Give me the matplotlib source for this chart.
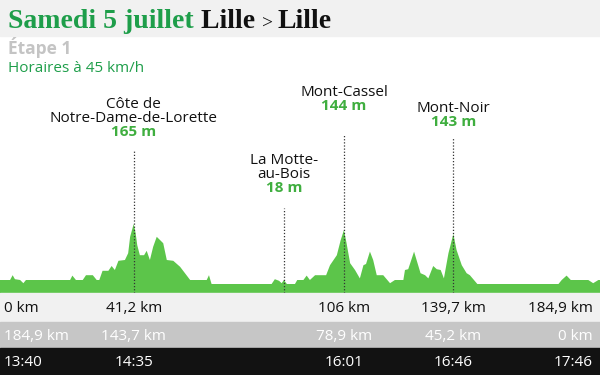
import matplotlib
matplotlib.use("Agg")
import matplotlib.pyplot as plt

# profile: distance (km) / altitude (m)
profile_km = [0, 3.1, 3.9, 4.6, 6.2, 7.2, 8.0, 21.6, 22.3, 23.4, 25.5, 26.5, 28.6,
              29.8, 30.6, 31.6, 33.4, 34.4, 35.4, 36.5, 38.5, 39.5, 40.1, 41.2,
              41.8, 42.3, 43.1, 44.4, 45.2, 46.2, 47.2, 48.3, 49.3, 50.3, 51.4,
              53.4, 55.5, 58.6, 61.6, 63.7, 64.4, 65.2, 83.7, 84.7, 86.0, 86.8,
              87.5, 88.4, 90.9, 91.6, 93.5, 94.5, 95.5, 97.1, 100.5, 101.7, 103.8,
              105.0, 106.0, 106.8, 107.9, 109.4, 110.9, 112.0, 112.8, 114.0, 115.0,
              116.1, 118.1, 120.2, 121.7, 124.3, 124.8, 125.8, 127.6, 129.6, 131.0,
              132.0, 133.5, 134.6, 135.8, 136.8, 138.2, 139.7, 140.7, 142.3, 143.8,
              144.8, 147.1, 172.1, 173.1, 174.6, 175.9, 181.3, 182.8, 184.4, 184.9]
profile_m = [25, 25, 37, 27, 25, 17, 25, 25, 36, 25, 25, 37, 37,
             25, 25, 48, 48, 60, 50, 73, 75, 92, 133, 165,
             142, 112, 87, 87, 98, 75, 108, 133, 125, 117, 75,
             73, 58, 25, 25, 25, 37, 15, 15, 27, 23, 17,
             25, 15, 15, 25, 25, 36, 25, 37, 37, 62, 87,
             125, 150, 117, 67, 50, 29, 62, 65, 96, 75,
             37, 37, 17, 25, 25, 50, 52, 96, 42, 37,
             29, 60, 52, 50, 29, 92, 140, 100, 62, 42,
             37, 15, 15, 25, 36, 25, 25, 17, 25, 25]

climb_names = [["Côte de", "Notre-Dame-de-Lorette"], ["La Motte-", "au-Bois"],
               ["Mont-Cassel"], ["Mont-Noir"]]
climb_alt = ["165 m", "18 m", "144 m", "143 m"]
climb_km = [41.2, 87.6, 106.0, 139.7]

row_km = [0, 41.2, 106, 139.7, 184.9]
row_done = ["0 km", "41,2 km", "106 km", "139,7 km", "184,9 km"]
row_left = ["184,9 km", "143,7 km", "78,9 km", "45,2 km", "0 km"]
row_time = ["13:40", "14:35", "16:01", "16:46", "17:46"]

TOTAL = 184.9
W, H = 600, 375
SANS = ["Open Sans", "DejaVu Sans"]
SERIF = ["Liberation Serif", "DejaVu Serif"]
GREEN_T = "#1e9e4a"
GREEN_V = "#3fae3f"
GREEN_F = "#5cc54a"

fig = plt.figure(figsize=(6, 3.75), dpi=100)
fig.patch.set_facecolor("white")


def fy(px):
    return 1 - px / H


# header band
fig.patches.append(plt.Rectangle((0, fy(36)), 1, 36 / H, transform=fig.transFigure,
                                 color="#f1f1f1", zorder=0))

# title in pieces
pieces = [("Samedi 5 juillet ", GREEN_T, "bold", 20), ("Lille ", "#111111", "bold", 20),
          ("> ", "#111111", "normal", 14), ("Lille", "#111111", "bold", 20)]
fig.canvas.draw()
r = fig.canvas.get_renderer()
x = 8
for txt, col, wt, sz in pieces:
    t = fig.text(x / W, fy(28), txt, color=col, fontweight=wt, fontsize=sz,
                 family=SERIF, va="baseline", ha="left")
    x += t.get_window_extent(r).width

fig.text(8 / W, fy(48), "Étape 1", color="#c4c4c4", fontsize=12.5, fontweight="bold",
         family=SANS, va="center")
fig.text(8 / W, fy(68), "Horaires à 45 km/h", color=GREEN_T, fontsize=11,
         family=SANS, va="center")

# profile
bot, top = 293, 100
ax = fig.add_axes([0, fy(bot), 1, (bot - top) / H])
ylo = (290 - bot) / 0.4
yhi = (290 - top) / 0.4
ax.set_xlim(0, TOTAL)
ax.set_ylim(ylo, yhi)
ax.axis("off")
ax.fill_between(profile_km, ylo, profile_m, color=GREEN_F, lw=0, zorder=2)

line_top = [150, 208, 135, 138]
name_y = [105, 161, 92, 108]
for lines, alt, km, lt, ny in zip(climb_names, climb_alt, climb_km, line_top, name_y):
    ax.plot([km, km], [ylo, (290 - lt) / 0.4], color="#333333", lw=0.9,
            ls=(0, (1, 1.5)), zorder=3)
    xf = km / TOTAL
    y = ny
    for ln in lines:
        fig.text(xf, fy(y), ln, ha="center", va="center", fontsize=11,
                 family=SANS, color="#111111")
        y += 13.5
    fig.text(xf, fy(y), alt, ha="center", va="center", fontsize=11,
             fontweight="bold", family=SANS, color=GREEN_V)

# bottom rows
rows = [(293, 322, "#f1f1f1", "#111111", row_done),
        (322, 348, "#c6c6c6", "white", row_left),
        (348, 375, "#121212", "white", row_time)]
for y0, y1, bg, fg, labels in rows:
    fig.patches.append(plt.Rectangle((0, fy(y1)), 1, (y1 - y0) / H,
                                     transform=fig.transFigure, color=bg, zorder=0))
    yc = fy((y0 + y1) / 2 + 1)
    for i, (km, lab) in enumerate(zip(row_km, labels)):
        if i == 0:
            xf, ha = 4 / W, "left"
        elif i == len(labels) - 1:
            xf, ha = 1 - 7 / W, "right"
        else:
            xf, ha = km / TOTAL, "center"
        fig.text(xf, yc, lab, ha=ha, va="center", fontsize=11, family=SANS, color=fg)

fig.savefig("out.png", dpi=100)
